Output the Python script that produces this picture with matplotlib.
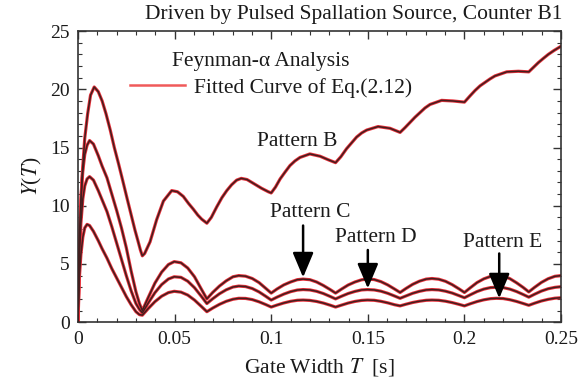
#!/usr/bin/env python3
"""
Feynman-alpha analysis, pulsed spallation source (counter B1)
Y(T) vs gate width T, data + fitted curve of Eq.(2.12)
"""

import matplotlib
matplotlib.use('Agg')
import matplotlib.pyplot as plt
from matplotlib.ticker import MultipleLocator, FormatStrFormatter

plt.rcParams['font.family'] = ['Liberation Serif', 'DejaVu Serif']
plt.rcParams['mathtext.fontset'] = 'stix'

# --- Pattern B ---
gate_b = [0, 0.0007, 0.002, 0.0035, 0.005, 0.0065, 0.0084, 0.0105, 0.0125, 0.0145,
          0.0167, 0.0188, 0.021, 0.0231, 0.0253, 0.0274, 0.0295, 0.031, 0.0323, 0.0333,
          0.0345, 0.0373, 0.0407, 0.0442, 0.0485, 0.0515, 0.0545, 0.0572, 0.0597, 0.062,
          0.064, 0.0667, 0.069, 0.0718, 0.0745, 0.077, 0.0795, 0.0821, 0.0845, 0.0875,
          0.09, 0.095, 0.0985, 0.1, 0.1022, 0.1046, 0.1072, 0.1097, 0.1123, 0.1149,
          0.12, 0.1253, 0.1295, 0.1333, 0.136, 0.139, 0.1416, 0.1442, 0.1468, 0.1494,
          0.1553, 0.1615, 0.1667, 0.1692, 0.1718, 0.1744, 0.177, 0.1796, 0.1822, 0.1882,
          0.194, 0.2, 0.2027, 0.2055, 0.2081, 0.2107, 0.2133, 0.2158, 0.2219, 0.2279,
          0.2333, 0.2358, 0.2383, 0.2408, 0.2434, 0.2465, 0.25]
y_b = [0, 6.5, 12.2, 15.8, 17.9, 19.5, 20.2, 19.8, 19.0, 17.9,
       16.5, 15.0, 13.6, 12.2, 10.7, 9.3, 7.9, 7.0, 6.2, 5.7,
       5.9, 6.9, 8.8, 10.4, 11.3, 11.2, 10.8, 10.2, 9.7, 9.2,
       8.85, 8.5, 9.0, 9.9, 10.7, 11.3, 11.8, 12.2, 12.35, 12.25,
       12.0, 11.5, 11.2, 11.1, 11.6, 12.3, 12.9, 13.45, 13.85, 14.15,
       14.45, 14.25, 13.95, 13.7, 14.2, 14.9, 15.4, 15.9, 16.25, 16.5,
       16.8, 16.65, 16.3, 16.7, 17.15, 17.6, 18.0, 18.4, 18.7, 19.05,
       19.0, 18.9, 19.4, 19.9, 20.3, 20.6, 20.9, 21.15, 21.5, 21.55,
       21.5, 21.9, 22.3, 22.65, 23.0, 23.35, 23.7]

# --- Patterns C, D, E (shared gate widths) ---
gate_low = [0, 0.0007, 0.0015, 0.0025, 0.0035, 0.0047, 0.006, 0.008, 0.0105, 0.0125,
            0.015, 0.0175, 0.02, 0.0225, 0.025, 0.0275, 0.03, 0.0318, 0.0333,
            0.0363, 0.0398, 0.0433, 0.0468, 0.0498, 0.0533, 0.0568, 0.0603, 0.0638, 0.0667,
            0.0697, 0.0732, 0.0767, 0.0802, 0.0832, 0.0867, 0.0902, 0.0937, 0.0972, 0.1,
            0.103, 0.1065, 0.11, 0.1135, 0.1165, 0.12, 0.1235, 0.127, 0.1305, 0.1333,
            0.1363, 0.1398, 0.1433, 0.1468, 0.1498, 0.1533, 0.1568, 0.1603, 0.1638, 0.1667,
            0.1697, 0.1732, 0.1767, 0.1802, 0.1832, 0.1867, 0.1902, 0.1937, 0.1972, 0.2,
            0.203, 0.2065, 0.21, 0.2135, 0.2165, 0.22, 0.2235, 0.227, 0.2305, 0.2333,
            0.2363, 0.2398, 0.2433, 0.2468, 0.25]
y_c = [0, 7.0, 10.5, 13.0, 14.4, 15.2, 15.6, 15.3, 14.3, 13.4,
       12.4, 11.0, 9.6, 8.1, 6.4, 4.4, 2.6, 1.6, 1.0,
       2.1, 3.35, 4.3, 4.95, 5.2, 5.1, 4.65, 3.9, 2.85, 2.0,
       2.55, 3.1, 3.55, 3.9, 4.0, 3.95, 3.75, 3.4, 2.9, 2.5,
       2.85, 3.2, 3.45, 3.65, 3.7, 3.65, 3.45, 3.15, 2.8, 2.5,
       2.83, 3.19, 3.45, 3.64, 3.7, 3.66, 3.48, 3.2, 2.85, 2.55,
       2.89, 3.25, 3.52, 3.7, 3.75, 3.69, 3.51, 3.22, 2.86, 2.55,
       2.95, 3.4, 3.72, 3.93, 4.0, 3.95, 3.74, 3.38, 2.97, 2.6,
       2.99, 3.41, 3.73, 3.94, 4.0]
y_d = [0, 5.5, 8.5, 10.6, 11.7, 12.3, 12.5, 12.2, 11.3, 10.5,
       9.5, 8.2, 6.8, 5.4, 4.0, 2.7, 1.6, 1.1, 0.8,
       1.63, 2.53, 3.23, 3.71, 3.9, 3.85, 3.52, 2.96, 2.23, 1.6,
       2.01, 2.44, 2.78, 3.02, 3.1, 3.06, 2.89, 2.6, 2.22, 1.9,
       2.15, 2.41, 2.62, 2.76, 2.8, 2.77, 2.65, 2.46, 2.21, 2.0,
       2.22, 2.46, 2.64, 2.77, 2.8, 2.77, 2.66, 2.48, 2.25, 2.05,
       2.25, 2.48, 2.65, 2.77, 2.8, 2.77, 2.66, 2.5, 2.28, 2.1,
       2.35, 2.63, 2.84, 2.97, 3.0, 2.97, 2.84, 2.63, 2.37, 2.15,
       2.4, 2.67, 2.87, 2.99, 3.05]
y_e = [0, 3.8, 5.8, 7.3, 8.1, 8.4, 8.3, 7.8, 7.0, 6.3,
       5.5, 4.6, 3.8, 3.0, 2.2, 1.5, 0.9, 0.65, 0.6,
       1.16, 1.76, 2.23, 2.54, 2.65, 2.58, 2.33, 1.9, 1.36, 0.9,
       1.21, 1.53, 1.79, 1.97, 2.05, 2.04, 1.94, 1.75, 1.51, 1.3,
       1.47, 1.65, 1.79, 1.88, 1.9, 1.87, 1.78, 1.64, 1.46, 1.3,
       1.46, 1.64, 1.78, 1.87, 1.9, 1.88, 1.79, 1.66, 1.5, 1.4,
       1.54, 1.69, 1.8, 1.88, 1.9, 1.88, 1.8, 1.68, 1.53, 1.4,
       1.58, 1.77, 1.92, 2.02, 2.05, 2.03, 1.93, 1.78, 1.6, 1.45,
       1.63, 1.82, 1.96, 2.06, 2.1]

# pattern labels and arrows
labels = ['Pattern C', 'Pattern D', 'Pattern E']
label_xy = [(0.120, 9.4), (0.1543, 7.3), (0.220, 6.85)]
arrow_x = [0.1165, 0.150, 0.218]
arrow_tail = [8.3, 6.2, 5.9]
arrow_tip = [3.85, 2.9, 2.05]

FIT_RED = '#e8303a'
DATA_DARK = '#421e1e'
TXT = '#1a1a1a'
FS = 15.5


def main():
    fig = plt.figure(figsize=(5.82, 3.84), dpi=100)
    ax = fig.add_axes([0.134, 0.161, 0.830, 0.758])

    curves = [(gate_b, y_b), (gate_low, y_c), (gate_low, y_d), (gate_low, y_e)]
    for i, (t, y) in enumerate(curves):
        ax.plot(t, y, color=FIT_RED, lw=2.3, zorder=2,
                label='Fitted Curve of Eq.(2.12)' if i == 0 else None)
        ax.plot(t, y, color=DATA_DARK, lw=1.1, zorder=3)

    ax.set_xlim(0, 0.25)
    ax.set_ylim(0, 25)
    ax.xaxis.set_major_locator(MultipleLocator(0.05))
    ax.xaxis.set_minor_locator(MultipleLocator(0.01))
    ax.yaxis.set_major_locator(MultipleLocator(5))
    ax.yaxis.set_minor_locator(MultipleLocator(1))
    ax.xaxis.set_major_formatter(FormatStrFormatter('%g'))
    ax.tick_params(which='both', direction='in', top=True, right=True,
                   labelsize=14, colors='#333333', labelcolor=TXT)
    ax.tick_params(which='major', length=6, width=1.0, pad=6)
    ax.tick_params(which='minor', length=3, width=0.8)
    for s in ax.spines.values():
        s.set_linewidth(1.2)
        s.set_color('#333333')

    ax.set_xlabel('Gate Width $T$  [s]', fontsize=FS, color=TXT, labelpad=6)
    ax.set_ylabel('$Y$($T$)', fontsize=FS, color=TXT, labelpad=4)

    fig.text(0.966, 0.962, 'Driven by Pulsed Spallation Source, Counter B1',
             ha='right', va='center', fontsize=FS, color=TXT)

    ax.text(0.195, 0.897, 'Feynman-\u03b1 Analysis', transform=ax.transAxes,
            ha='left', va='center', fontsize=FS, color=TXT)
    leg = ax.legend(loc='center left', bbox_to_anchor=(0.108, 0.805), frameon=False,
                    fontsize=FS, handlelength=2.55, handletextpad=0.4,
                    borderaxespad=0, borderpad=0)
    for h in leg.legend_handles:
        h.set_color('#f05a5a')
        h.set_linewidth(1.8)
    for t in leg.get_texts():
        t.set_color(TXT)

    ax.text(0.1134, 15.5, 'Pattern B', ha='center', va='center',
            fontsize=FS, color=TXT)
    for lab, (lx, ly), ax_x, tail, tip in zip(labels, label_xy, arrow_x, arrow_tail, arrow_tip):
        ax.text(lx, ly, lab, ha='center', va='center', fontsize=FS, color=TXT)
        ax.annotate('', xy=(ax_x, tip), xytext=(ax_x, tail),
                    arrowprops=dict(arrowstyle='-|>,head_length=0.95,head_width=0.4',
                                    color='black', lw=1.8, mutation_scale=16,
                                    shrinkA=0, shrinkB=0), zorder=5)

    fig.savefig('out.png', dpi=100)
    plt.close(fig)


if __name__ == '__main__':
    main()
